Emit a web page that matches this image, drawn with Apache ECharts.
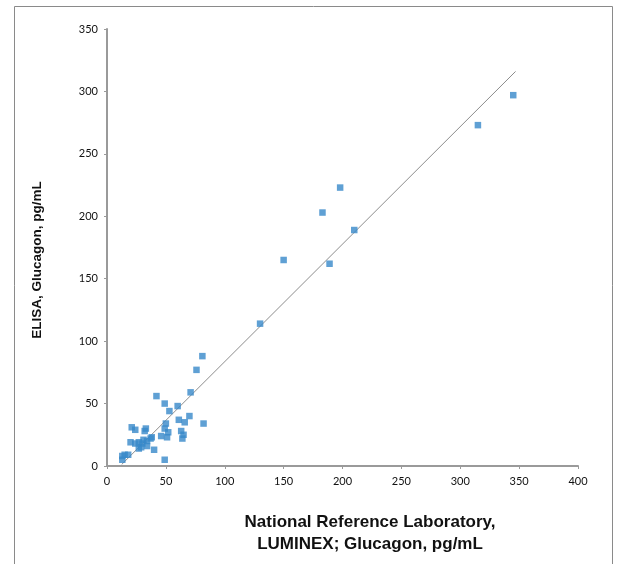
<!DOCTYPE html>
<html>
<head>
<meta charset="utf-8">
<script src="https://cdn.jsdelivr.net/npm/echarts@6/dist/echarts.min.js"></script>
<style>
html,body{margin:0;padding:0;background:#fff;}
#chart{width:617px;height:564px;}
</style>
</head>
<body>
<div id="chart"></div>
<script>
// Luminex (x) vs ELISA (y) glucagon values, pg/mL
const luminex = [345,315,198,183,210,150,189,130,81,76,42,71,49,60,53,70,61,66,82,50,49,63,52,65,46,51,64,38,40,49,21,24,33,32,20,24,27,30,34,34,27,29,31,37,13,15,18,13];
const elisa   = [297,273,223,203,189,165,162,114,88,77,56,59,50,48,44,40,37,35,34,34,30,28,27,25,24,23,22,23,13,5,31,29,30,28,19,18,19,18,20,16,14,15,21,22,5,9,9,8];
// Trendline
const trendSlope = 0.941;
const trendIntercept = -10.5;
const xTicks = [0,50,100,150,200,250,300,350,400];
const yTicks = [0,50,100,150,200,250,300,350];

const points = luminex.map((x,i)=>[x, elisa[i]]);
const xMin = Math.min(...luminex) - 0.5, xMax = Math.max(...luminex) + 2;
const trend = [[xMin, trendSlope*xMin+trendIntercept],[xMax, trendSlope*xMax+trendIntercept]];

const tickFont = 'Lato';
const chart = echarts.init(document.getElementById('chart'));
chart.setOption({
  animation:false,
  grid:{left:107,right:39,top:29,bottom:98},
  xAxis:{type:'value',min:xTicks[0],max:xTicks[xTicks.length-1],interval:50,
    splitLine:{show:false},
    axisLine:{show:true,lineStyle:{color:'#9a9a9a',width:2}},
    axisTick:{show:true,length:3,lineStyle:{color:'#9a9a9a'}},
    axisLabel:{color:'#111',fontFamily:tickFont,fontSize:11,margin:10}},
  yAxis:{type:'value',min:yTicks[0],max:yTicks[yTicks.length-1],interval:50,
    splitLine:{show:false},
    axisLine:{show:true,lineStyle:{color:'#9a9a9a',width:2}},
    axisTick:{show:true,length:3,lineStyle:{color:'#9a9a9a'}},
    axisLabel:{color:'#111',fontFamily:tickFont,fontSize:11,margin:9}},
  graphic:[
    {type:'rect',shape:{x:14.5,y:6.5,width:598,height:600},style:{fill:null,stroke:'#8a8a8a',lineWidth:1},silent:true},
    {type:'text',x:37,y:260,rotation:Math.PI/2,style:{text:'ELISA, Glucagon, pg/mL',font:'bold 13.5px "Liberation Sans"',fill:'#111',textAlign:'center',textVerticalAlign:'middle'}},
    {type:'text',x:370,y:533,style:{text:'National Reference Laboratory,\nLUMINEX; Glucagon, pg/mL',font:'bold 17px "Liberation Sans"',fill:'#111',textAlign:'center',textVerticalAlign:'middle',lineHeight:22}}
  ],
  series:[
    {type:'line',data:trend,symbol:'none',lineStyle:{color:'#8c8c8c',width:1},z:1,silent:true},
    {type:'scatter',data:points,symbol:'rect',symbolSize:6.5,itemStyle:{color:'#3788c9'},z:2}
  ]
});
</script>
</body>
</html>
